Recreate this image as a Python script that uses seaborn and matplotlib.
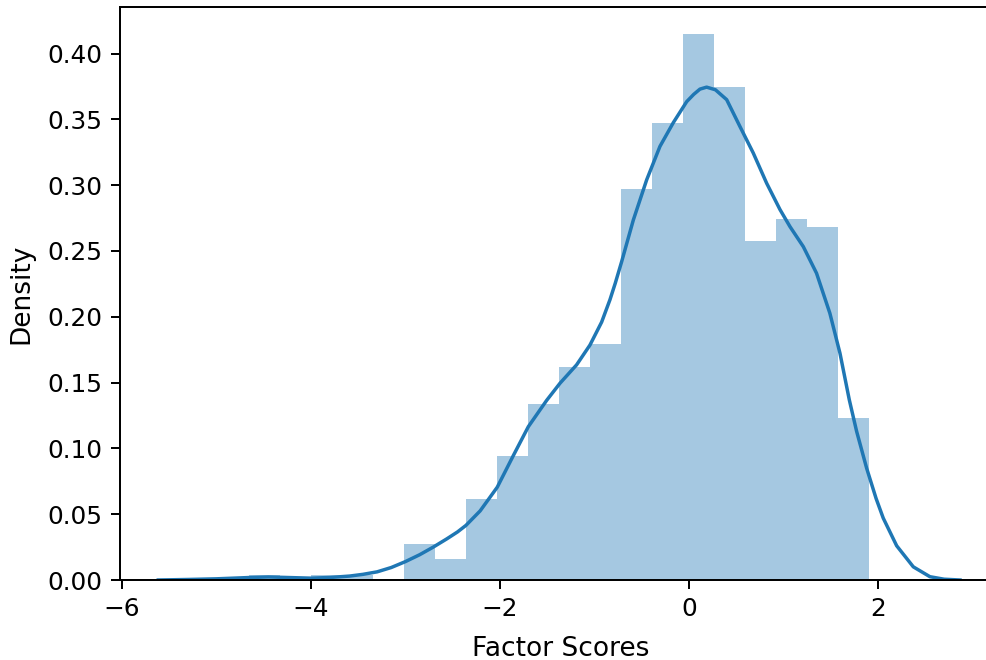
import matplotlib
matplotlib.use("Agg")
import matplotlib.pyplot as plt
import seaborn as sns
import numpy as np
import pandas as pd

# Histogram bin edges and densities
bin_edges = [-4.656, -4.328, -4.000, -3.672, -3.343, -3.015, -2.687, -2.359,
             -2.031, -1.702, -1.374, -1.046, -0.718, -0.390, -0.061, 0.267,
             0.595, 0.923, 1.252, 1.580, 1.908]
bin_density = [0.0039, 0.0, 0.0039, 0.0039, 0.0, 0.0271, 0.0160, 0.0613,
               0.0945, 0.1338, 0.1618, 0.1791, 0.2969, 0.3471, 0.4147, 0.3749,
               0.2579, 0.2741, 0.2683, 0.1229]

# KDE curve
kde_x = [-5.616, -5.30, -5.00, -4.645, -4.45, -4.20, -4.00, -3.80, -3.59, -3.45,
         -3.30, -3.15, -3.00, -2.85, -2.706, -2.564, -2.45, -2.36, -2.21, -2.029,
         -1.859, -1.70, -1.506, -1.365, -1.189, -1.048, -0.924, -0.836, -0.78, -0.712,
         -0.589, -0.448, -0.307, -0.166, -0.024, 0.05, 0.116, 0.187, 0.28, 0.399,
         0.540, 0.680, 0.822, 0.963, 1.069, 1.21, 1.35, 1.491, 1.598, 1.697,
         1.774, 1.880, 1.98, 2.056, 2.198, 2.374, 2.55, 2.70, 2.868]
kde_y = [0.0000, 0.0004, 0.0009, 0.0019, 0.0023, 0.0018, 0.0014, 0.0019, 0.0030, 0.0043,
         0.0062, 0.0095, 0.0140, 0.0192, 0.0250, 0.0312, 0.0365, 0.0415, 0.0525, 0.0705,
         0.0945, 0.1165, 0.1365, 0.1495, 0.1635, 0.1785, 0.1960, 0.2130, 0.2255, 0.2420,
         0.2735, 0.3040, 0.3295, 0.3475, 0.3635, 0.3690, 0.3730, 0.3745, 0.3725, 0.3650,
         0.3445, 0.3245, 0.3015, 0.2815, 0.2685, 0.2533, 0.2331, 0.2027, 0.1723, 0.1368,
         0.1130, 0.0850, 0.0620, 0.0470, 0.0260, 0.0100, 0.0025, 0.0006, 0.0000]

xlabel = "Factor Scores"
ylabel = "Density"

bin_centers = [(a + b) / 2 for a, b in zip(bin_edges[:-1], bin_edges[1:])]
hist_df = pd.DataFrame({"x": bin_centers, "w": bin_density})
kde_df = pd.DataFrame({"x": kde_x, "y": kde_y})

dpi = 178
fig = plt.figure(figsize=(986 / dpi, 660 / dpi), dpi=dpi)
ax = fig.add_axes([120 / 986, 80 / 660, 881 / 986, 573 / 660])

sns.histplot(data=hist_df, x="x", weights="w", bins=bin_edges, stat="count",
             color="#1f77b4", alpha=0.4, linewidth=0, ax=ax)
sns.lineplot(data=kde_df, x="x", y="y", color="#1f77b4", linewidth=1.4, ax=ax)

ax.set_xlim(-6.021, 3.302)
ax.set_ylim(0, 0.4354)
ax.set_xticks([-6, -4, -2, 0, 2])
ax.set_yticks(np.arange(0, 0.41, 0.05))
ax.set_xlabel(xlabel, fontsize=10.7, labelpad=5.8)
ax.set_ylabel(ylabel, fontsize=10.7, labelpad=5.2)

fig.savefig("out.png", dpi=dpi)
